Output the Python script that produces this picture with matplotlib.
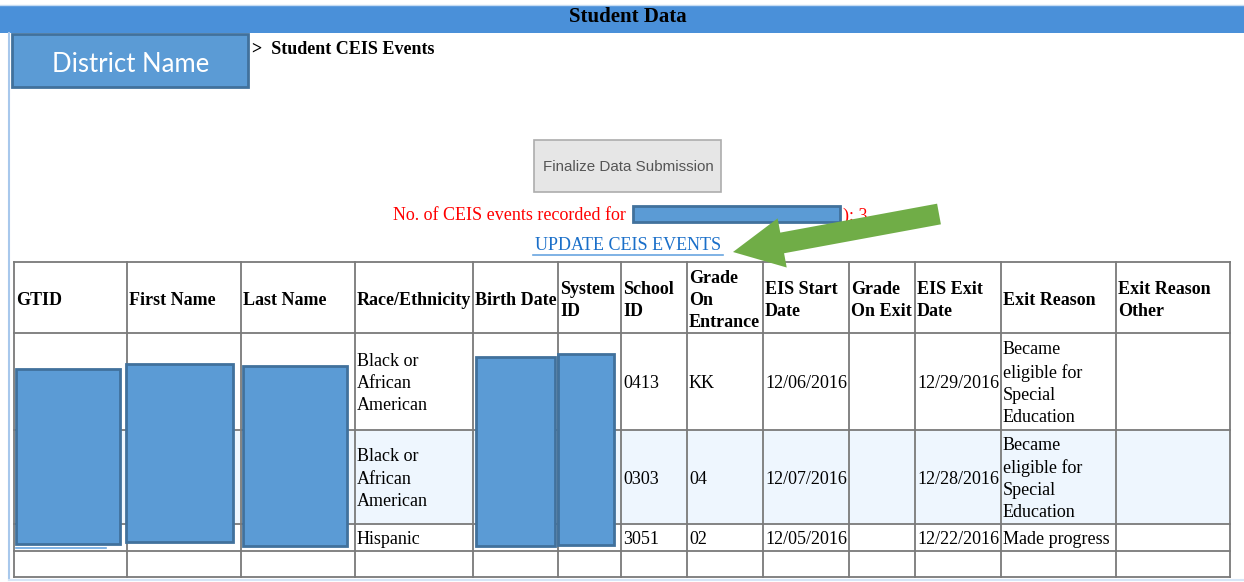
import matplotlib.pyplot as plt
from matplotlib.patches import Rectangle, FancyArrow

# ---- data ----
headers = ['GTID', 'First Name', 'Last Name', 'Race/Ethnicity', 'Birth Date',
           'System\nID', 'School\nID', 'Grade\nOn\nEntrance', 'EIS Start\nDate',
           'Grade\nOn Exit', 'EIS Exit\nDate', 'Exit Reason', 'Exit Reason\nOther']
race = ['Black or\nAfrican\nAmerican', 'Black or\nAfrican\nAmerican', 'Hispanic', '']
school_id = ['0413', '0303', '3051', '']
grade_entry = ['KK', '04', '02', '']
start_date = ['12/06/2016', '12/07/2016', '12/05/2016', '']
grade_exit = ['', '', '', '']
exit_date = ['12/29/2016', '12/28/2016', '12/22/2016', '']
exit_reason = ['Became\neligible for\nSpecial\nEducation',
               'Became\neligible for\nSpecial\nEducation', 'Made progress', '']
exit_other = ['', '', '', '']
n_events = 3

# layout (pixels)
col_x = [14, 127, 241, 355, 473, 558, 621, 687, 763, 849, 915, 1001, 1116, 1230]
row_y = [262, 333, 430, 524, 551, 577]

SERIF = 'Liberation Serif'
BLUE_BOX = '#5b9bd5'
BLUE_EDGE = '#41719c'
LS = 1.4

fig = plt.figure(figsize=(12.44, 5.82), dpi=100)
ax = fig.add_axes([0, 0, 1, 1])
ax.set_xlim(0, 1244)
ax.set_ylim(582, 0)
ax.axis('off')

# page frame
ax.add_patch(Rectangle((0, 5), 1244, 28, facecolor='#4a90d9', edgecolor='none'))
ax.plot([0, 1244], [4.5, 4.5], color='#c5dcf3', lw=1)
ax.plot([8.5, 8.5], [33, 580], color='#a8c8ec', lw=1.5)
ax.plot([8.5, 1244], [580, 580], color='#d6e6f7', lw=1.5)
ax.text(628, 17, 'Student Data', family=SERIF, weight='bold', fontsize=15,
        ha='center', va='center', color='black')

# breadcrumb
ax.add_patch(Rectangle((12, 34), 236, 53, facecolor=BLUE_BOX, edgecolor=BLUE_EDGE, lw=2))
ax.text(131, 65, 'District Name', family='Lato', fontsize=18.5, color='white',
        ha='center', va='center')
ax.text(252, 49, '>  Student CEIS Events', family=SERIF, weight='bold', fontsize=13,
        ha='left', va='center')

# button
ax.add_patch(Rectangle((534, 140), 187, 52, facecolor='#e6e6e6', edgecolor='#adadad', lw=1.2))
ax.text(628, 167, 'Finalize Data Submission', family='Liberation Sans', fontsize=10.9,
        color='#555555', ha='center', va='center')

# events count line
ax.text(393, 216, 'No. of CEIS events recorded for ', family=SERIF, fontsize=13,
        color='red', ha='left', va='center')
ax.text(843, 216, '): %d' % n_events, family=SERIF, fontsize=13,
        color='red', ha='left', va='center')
ax.add_patch(Rectangle((633, 206), 207, 16, facecolor=BLUE_BOX, edgecolor=BLUE_EDGE,
                       lw=2, zorder=5))

ax.text(628, 246, 'UPDATE CEIS EVENTS', family=SERIF, fontsize=13,
        color='#1a6fc9', ha='center', va='center')
ax.plot([533, 723], [254.5, 254.5], color='#6aa6e0', lw=1.2)

# green arrow
ax.add_patch(FancyArrow(939, 214, -206, 38, width=21, head_width=50, head_length=50,
                        length_includes_head=True, facecolor='#70ad47',
                        edgecolor='none', zorder=6))

# table
ax.add_patch(Rectangle((col_x[0], row_y[2]), col_x[-1] - col_x[0], row_y[3] - row_y[2],
                       facecolor='#eef6fe', edgecolor='none'))
for x in col_x:
    ax.plot([x, x], [row_y[0], row_y[-1]], color='#7a7a7a', lw=1.3)
for y in row_y:
    ax.plot([col_x[0], col_x[-1]], [y, y], color='#7a7a7a', lw=1.3)

hy = (row_y[0] + row_y[1]) / 2 + 3
for i, h in enumerate(headers):
    ax.text(col_x[i] + 2, hy, h, family=SERIF, weight='bold', fontsize=13,
            ha='left', va='center', linespacing=LS)

columns = [None, None, None, race, None, None, school_id, grade_entry,
           start_date, grade_exit, exit_date, exit_reason, exit_other]
for r in range(4):
    cy = (row_y[r + 1] + row_y[r + 2]) / 2 + 2
    for c, vals in enumerate(columns):
        if vals is None or not vals[r]:
            continue
        ax.text(col_x[c] + 2, cy, vals[r], family=SERIF, fontsize=13,
                ha='left', va='center', linespacing=LS)

# link underline peeking out under the redaction
ax.plot([16, 106], [547.5, 547.5], color='#6aa6e0', lw=1.2)

# redaction boxes
redact = [(16, 369, 104, 175), (126, 364, 107, 178), (243, 366, 104, 180),
          (476, 357, 79, 189), (558, 354, 56, 191)]
for x0, y0, w, h in redact:
    ax.add_patch(Rectangle((x0, y0), w, h, facecolor=BLUE_BOX, edgecolor=BLUE_EDGE,
                           lw=2, zorder=5))

fig.savefig('out.png', dpi=100)
